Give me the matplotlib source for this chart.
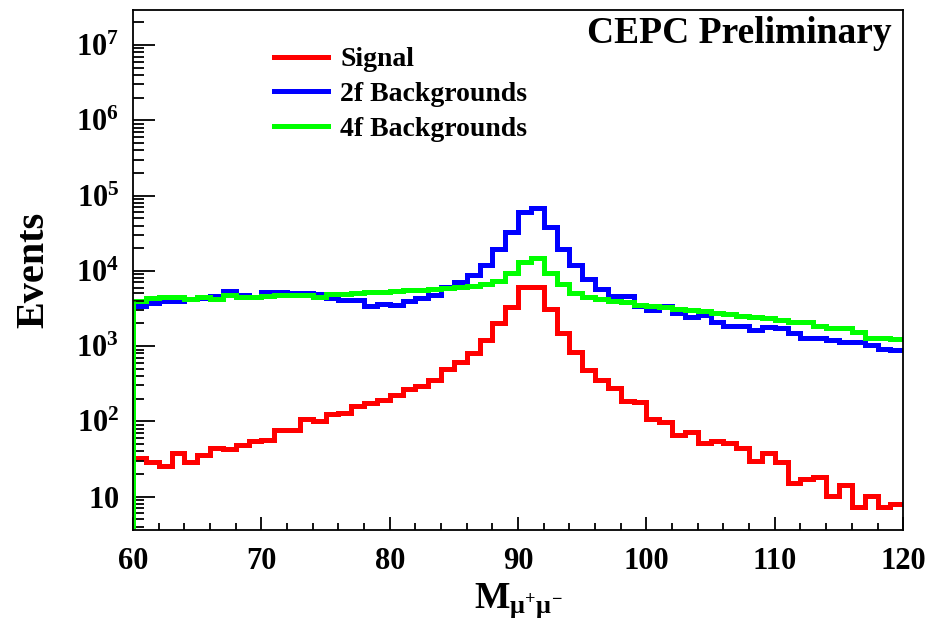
import numpy as np
import matplotlib
matplotlib.use("Agg")
import matplotlib.pyplot as plt
from matplotlib.lines import Line2D
from matplotlib.ticker import FixedLocator, LogLocator, NullFormatter, MultipleLocator

plt.rcParams['font.family'] = ['Liberation Serif', 'DejaVu Serif']
plt.rcParams['font.weight'] = 'bold'
plt.rcParams['mathtext.fontset'] = 'custom'
plt.rcParams['mathtext.rm'] = 'Liberation Serif'
plt.rcParams['mathtext.it'] = 'Liberation Serif:italic'
plt.rcParams['mathtext.bf'] = 'Liberation Serif:bold'

# ---- data (1 GeV bins from 60 to 120) ----
bin_edges = np.arange(60, 121, 1)

signal = [33, 29, 25.5, 38, 29, 36, 45, 43, 49, 55,
          57, 77, 78, 108, 100, 125, 130, 158, 178, 194,
          225, 268, 291, 357, 495, 620, 808, 1190, 2020, 3290,
          6060, 6060, 3130, 1490, 840, 484, 357, 282, 184, 180,
          107, 97, 65, 73, 52, 55, 52, 45, 30, 38,
          29, 15.1, 17, 18.5, 10.1, 14.1, 7.2, 10.1, 7.2, 8.05]

bkg_2f = [3460, 3725, 3920, 4000, 4250, 4400, 4700, 5470, 4800, 4430,
          5310, 5200, 5100, 5050, 4900, 4340, 4080, 4080, 3460, 3680,
          3570, 3920, 4340, 4800, 6070, 7000, 8850, 12000, 19600, 33300,
          61400, 68000, 38700, 19600, 12000, 7760, 5820, 4650, 4600, 3430,
          3030, 3450, 2790, 2470, 2630, 2120, 1860, 1860, 1640, 1820,
          1730, 1490, 1300, 1300, 1210, 1130, 1130, 1030, 912, 875]

bkg_4f = [4000, 4340, 4560, 4560, 4250, 4430, 4250, 4800, 4430, 4560,
          4650, 4800, 4800, 4720, 4560, 4900, 4950, 5050, 5300, 5300,
          5470, 5600, 5600, 5720, 5890, 6070, 6300, 6700, 7430, 9490,
          13300, 14700, 9310, 6710, 5150, 4470, 4210, 3920, 3830, 3530,
          3360, 3300, 3100, 3050, 2970, 2740, 2700, 2520, 2400, 2340,
          2230, 2120, 2100, 1860, 1730, 1730, 1560, 1300, 1300, 1250]

labels = ["Signal", "2f Backgrounds", "4f Backgrounds"]
colors = ["#ff0000", "#0000ff", "#00ff00"]

ymin, ymax = 3.61, 2.92e7

fig = plt.figure(figsize=(9.29, 6.23), dpi=100)
ax = fig.add_axes([0.1432, 0.1493, 0.829, 0.8347])

lw = 3.6
for vals, c in zip([signal, bkg_2f, bkg_4f], colors):
    ax.stairs(vals, bin_edges, color=c, lw=lw, baseline=None)
    # ROOT draws the histogram rising from the bottom at the first edge
    ax.vlines(bin_edges[0], ymin, vals[0], color=c, lw=lw)

ax.set_yscale('log')
ax.set_xlim(60, 120)
ax.set_ylim(ymin, ymax)

# ticks
ax.xaxis.set_major_locator(MultipleLocator(10))
ax.xaxis.set_minor_locator(MultipleLocator(2))
major_y = [1e1, 1e2, 1e3, 1e4, 1e5, 1e6, 1e7]
ax.yaxis.set_major_locator(FixedLocator(major_y))
ax.set_yticklabels([r'$\mathbf{10}$'] + [r'$\mathbf{10}^{\mathrm{%d}}$' % k for k in range(2, 8)])
ax.yaxis.set_minor_locator(LogLocator(base=10, subs=np.arange(2, 10), numticks=20))
ax.yaxis.set_minor_formatter(NullFormatter())

ax.tick_params(axis='both', which='both', direction='in', top=False, right=False, width=1.3)
ax.tick_params(axis='y', which='major', length=16, pad=10, labelsize=22)
ax.tick_params(axis='y', which='minor', length=8)
ax.tick_params(axis='x', which='major', length=9.5, pad=12, labelsize=22)
ax.tick_params(axis='x', which='minor', length=5)
for lab in ax.get_xticklabels():
    lab.set_fontweight('bold')
for sp in ax.spines.values():
    sp.set_linewidth(1.3)

ax.set_ylabel("Events", fontsize=29, fontweight='bold', labelpad=17)
ax.set_xlabel(r"M$_{\mathrm{\mu^{+}\mu^{-}}}$", fontsize=27, fontweight='bold', labelpad=4)

ax.text(0.985, 0.955, "CEPC Preliminary", transform=ax.transAxes,
        ha='right', va='center', fontsize=27, fontweight='bold')

handles = [Line2D([], [], color=c, lw=lw) for c in colors]
ax.legend(handles, labels, loc='upper left', bbox_to_anchor=(0.151, 0.977),
          frameon=False, handlelength=1.95, handletextpad=0.43,
          labelspacing=0.33, prop={'weight': 'bold', 'size': 20})

fig.savefig("out.png", dpi=100)
